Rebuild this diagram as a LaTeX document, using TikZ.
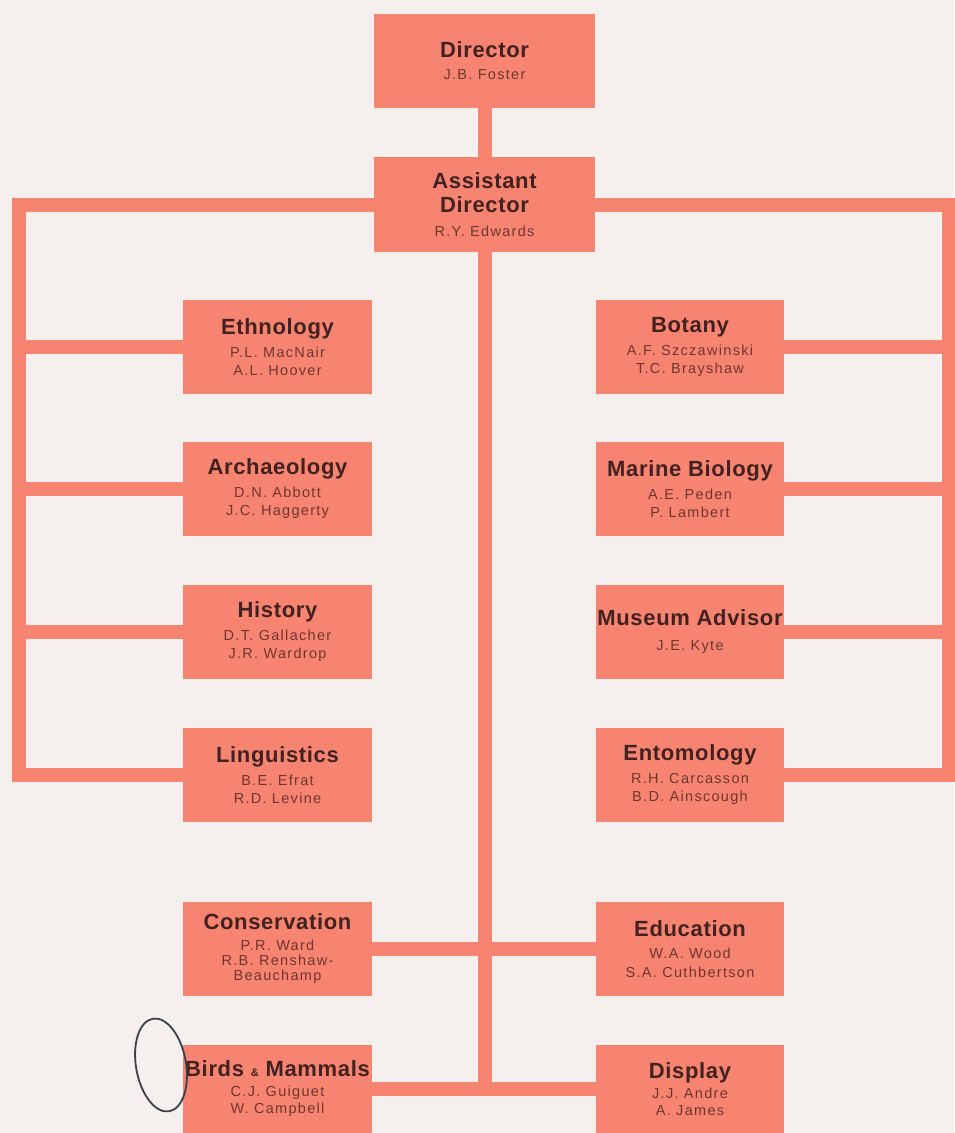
\documentclass[tikz,border=0pt]{standalone}
\usepackage{fontspec}
\setmainfont{Liberation Sans}
\newfontfamily\tfam[LetterSpace=3]{Liberation Sans}
\newfontfamily\nfam[LetterSpace=9]{Liberation Sans}
\definecolor{boxc}{RGB}{247,132,113}
\definecolor{bgc}{RGB}{245,239,237}
\definecolor{titlec}{RGB}{66,34,32}
\definecolor{namec}{RGB}{112,54,46}
\definecolor{penc}{RGB}{58,64,74}
\newcommand\tf{\tfam\bfseries\fontsize{22}{24}\selectfont\color{titlec}}
\newcommand\nf{\nfam\fontsize{14.5}{18}\selectfont}
\tikzset{
  orgbox/.style={fill=boxc, minimum width=189pt, minimum height=94pt, inner sep=0pt,
    align=center, text=namec, font=\nf},
  topbox/.style={orgbox, minimum width=221pt},
  bar/.style={draw=boxc, line width=14pt, line join=miter}
}
\begin{document}
\begin{tikzpicture}[x=1pt,y=-1pt]
\fill[bgc] (0,0) rectangle (954,1133);
\useasboundingbox (0,0) rectangle (954,1133);
% top
\node[topbox] (dir) at (484.5,61) {\tf Director\\[4pt] J.B. Foster};
\node[topbox, minimum height=95pt] (ad) at (484.5,204.5) {\tf Assistant\\[6pt] \tf Director\\[6pt] R.Y. Edwards};
% left column
\node[orgbox] (eth) at (277.5,347) {\tf Ethnology\\[5pt] P.L. MacNair\\ A.L. Hoover};
\node[orgbox] (arc) at (277.5,489) {\tf Archaeology\\[5pt] D.N. Abbott\\ J.C. Haggerty};
\node[orgbox] (his) at (277.5,631.5) {\tf History\\[5pt] D.T. Gallacher\\ J.R. Wardrop};
\node[orgbox] (lin) at (277.5,775) {\tf Linguistics\\[5pt] B.E. Efrat\\ R.D. Levine};
% right column
\node[orgbox, minimum width=188pt] (bot) at (690,347) {\tf Botany\\[5pt] A.F. Szczawinski\\ T.C. Brayshaw};
\node[orgbox, minimum width=188pt] (mar) at (690,489) {\tf Marine Biology\\[5pt] A.E. Peden\\ P. Lambert};
\node[orgbox, minimum width=188pt] (mus) at (690,631.5) {\tf Museum Advisor\\[7pt] J.E. Kyte};
\node[orgbox, minimum width=188pt] (ent) at (690,775) {\tf Entomology\\[5pt] R.H. Carcasson\\ B.D. Ainscough};
% lower boxes
\node[orgbox] (con) at (277.5,949) {\tf Conservation\\[3pt] P.R. Ward\\[-3pt] R.B. Renshaw-\\[-3pt] Beauchamp};
\node[orgbox, minimum width=188pt] (edu) at (690,949) {\tf Education\\[4pt] W.A. Wood\\[1pt] S.A. Cuthbertson};
\node[orgbox, minimum height=88pt] (bir) at (277.5,1089) {\tf Birds {\fontsize{11}{12}\selectfont\&} Mammals\\[2pt] C.J. Guiguet\\[-1pt] W. Campbell};
\node[orgbox, minimum width=188pt, minimum height=88pt] (dis) at (690,1089) {\tf Display\\[2pt] J.J. Andre\\[-1pt] A. James};
% spine coordinates
\coordinate (lt) at (19,204.5);
\coordinate (lb) at (19,775);
\coordinate (rt) at (949,204.5);
\coordinate (rb) at (949,775);
\coordinate (cb) at (484.5,1089);
% connectors
\draw[bar] (dir.south) -- (ad.north);
\draw[bar] (ad.south) -- (cb);
\draw[bar] (ad.west) -- (lt) -- (lb) -- (lin.west);
\draw[bar] (eth.west) -- (eth.west -| lt);
\draw[bar] (arc.west) -- (arc.west -| lt);
\draw[bar] (his.west) -- (his.west -| lt);
\draw[bar] (ad.east) -- (rt) -- (rb) -- (ent.east);
\draw[bar] (bot.east) -- (bot.east -| rt);
\draw[bar] (mar.east) -- (mar.east -| rt);
\draw[bar] (mus.east) -- (mus.east -| rt);
\draw[bar] (con.east) -- (edu.west);
\draw[bar] (bir.east) -- (dis.west);
% hand-drawn pen circle
\draw[penc, line width=1.8pt, rotate around={10:(161,1065)}] (161,1065) ellipse [x radius=25, y radius=47];
\end{tikzpicture}
\end{document}
